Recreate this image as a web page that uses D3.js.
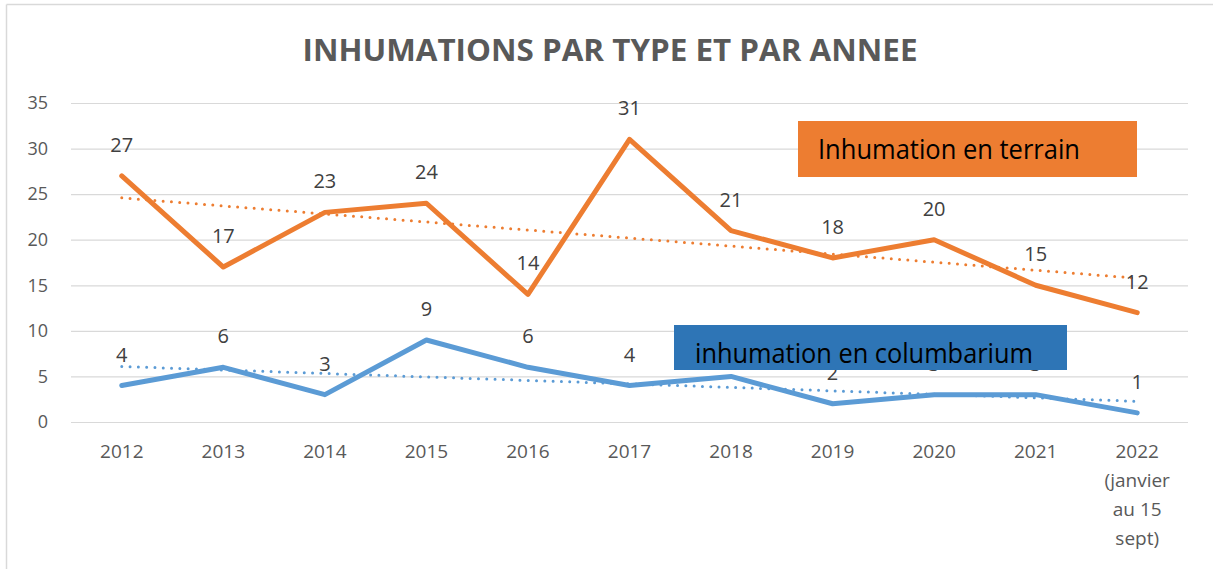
<!DOCTYPE html>
<html>
<head>
<meta charset="utf-8">
<script src="https://cdn.jsdelivr.net/npm/d3@7"></script>
<style>
  body { margin: 0; background: #fff; }
  svg { display: block; font-family: "Open Sans", sans-serif; }
</style>
</head>
<body>
<svg id="chart" width="1213" height="569"></svg>
<script>
// chart data
const years = ["2012", "2013", "2014", "2015", "2016", "2017", "2018", "2019", "2020", "2021", "2022"];
const yearSubLines = { "2022": ["(janvier", "au 15", "sept)"] };
const terrain = [27, 17, 23, 24, 14, 31, 21, 18, 20, 15, 12];
const columbarium = [4, 6, 3, 9, 6, 4, 5, 2, 3, 3, 1];
const yTicks = [0, 5, 10, 15, 20, 25, 30, 35];
const title = "INHUMATIONS PAR TYPE ET PAR ANNEE";
const terrainName = "Inhumation en terrain";
const columbariumName = "inhumation en columbarium";

const ORANGE = "#ED7D31", BLUE = "#5B9BD5", BLUE_BOX = "#2E75B6";
const GRID = "#D9D9D9", TEXT = "#595959", LABEL = "#404040";

const svg = d3.select("#chart");

// outer frame (only top and left are visible)
svg.append("line").attr("x1", 6.5).attr("x2", 6.5).attr("y1", 4.5).attr("y2", 569)
  .attr("stroke", GRID).attr("stroke-width", 1.5);
svg.append("line").attr("x1", 6.5).attr("x2", 1213).attr("y1", 4.5).attr("y2", 4.5)
  .attr("stroke", GRID).attr("stroke-width", 1.5);

svg.append("text")
  .attr("x", 610).attr("y", 61)
  .attr("text-anchor", "middle")
  .attr("textLength", 615).attr("lengthAdjust", "spacingAndGlyphs")
  .style("font-size", "31px").style("font-weight", "bold")
  .attr("fill", TEXT)
  .text(title);

const x = d3.scaleBand().domain(years).range([71, 1188]);
const y = d3.scaleLinear().domain([0, 35]).range([422, 103]);
const cx = d => x(d) + x.bandwidth() / 2;

// gridlines + y axis labels
const yAxis = svg.append("g")
  .attr("transform", "translate(71,0)")
  .call(d3.axisLeft(y).tickValues(yTicks).tickSize(-(1188 - 71)).tickPadding(23));
yAxis.select(".domain").remove();
yAxis.selectAll(".tick line").attr("stroke", GRID).attr("stroke-width", 1.2);
yAxis.selectAll(".tick text")
  .attr("fill", TEXT).style("font-size", "18px").style("font-family", "Open Sans");

// x axis labels
const xAxis = svg.append("g")
  .attr("transform", "translate(0,422)")
  .call(d3.axisBottom(x).tickSize(0).tickPadding(23));
xAxis.select(".domain").remove();
xAxis.selectAll(".tick text")
  .attr("fill", TEXT).style("font-size", "19px").style("font-family", "Open Sans")
  .each(function(d) {
    const extra = yearSubLines[d];
    if (!extra) return;
    const t = d3.select(this);
    extra.forEach(s => {
      t.append("tspan").attr("x", 0).attr("dy", 29).text(s);
    });
  });

// least squares trend line, like the spreadsheet's linear trendline
function trend(values) {
  const n = values.length;
  const mx = d3.mean(values, (v, i) => i);
  const my = d3.mean(values);
  let sxy = 0, sxx = 0;
  values.forEach((v, i) => { sxy += (i - mx) * (v - my); sxx += (i - mx) * (i - mx); });
  const b = sxy / sxx, a = my - b * mx;
  return [a, a + b * (n - 1)];
}

const line = d3.line().x((d, i) => cx(years[i])).y(d => y(d));

function drawSeries(values, color) {
  const t = trend(values);
  svg.append("line")
    .attr("x1", cx(years[0])).attr("y1", y(t[0]))
    .attr("x2", cx(years[years.length - 1])).attr("y2", y(t[1]))
    .attr("stroke", color).attr("stroke-width", 3)
    .attr("stroke-linecap", "round").attr("stroke-dasharray", "0 8.3");
  svg.append("path")
    .datum(values)
    .attr("d", line)
    .attr("fill", "none").attr("stroke", color).attr("stroke-width", 5)
    .attr("stroke-linejoin", "round").attr("stroke-linecap", "round");
}

drawSeries(columbarium, BLUE);
drawSeries(terrain, ORANGE);

function drawLabels(values) {
  svg.append("g").selectAll("text")
    .data(values)
    .join("text")
    .attr("x", (d, i) => cx(years[i]))
    .attr("y", d => y(d) - 24)
    .attr("text-anchor", "middle")
    .attr("fill", LABEL).style("font-size", "20px")
    .text(d => d);
}
drawLabels(columbarium);
drawLabels(terrain);

// label boxes placed over the plot (they hide some labels, as in the original)
const boxes = [
  { name: terrainName, fill: ORANGE, x0: 798, y0: 121, w: 339, h: 56, tx: 818, ty: 159, tl: 262 },
  { name: columbariumName, fill: BLUE_BOX, x0: 674, y0: 325, w: 393, h: 45, tx: 695, ty: 363, tl: 338 }
];
boxes.forEach(b => {
  svg.append("rect").attr("x", b.x0).attr("y", b.y0).attr("width", b.w).attr("height", b.h)
    .attr("fill", b.fill);
  svg.append("text").attr("x", b.tx).attr("y", b.ty)
    .attr("textLength", b.tl).attr("lengthAdjust", "spacingAndGlyphs")
    .attr("fill", "#000").style("font-size", "27px")
    .text(b.name);
});
</script>
</body>
</html>
